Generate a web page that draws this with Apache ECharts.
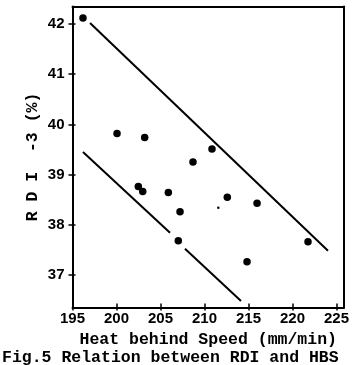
<!DOCTYPE html>
<html><head><meta charset="utf-8">
<script src="https://cdn.jsdelivr.net/npm/echarts@6/dist/echarts.min.js"></script>
<style>html,body{margin:0;padding:0;background:#fff}#c{width:359px;height:365px}</style>
</head><body><div id="c"></div>
<script>
// ---- data ----
const xTicks = [195, 200, 205, 210, 215, 220, 225];
const yTicks = [37, 38, 39, 40, 41, 42];
const hbs = [196.19, 200.06, 203.2, 210.85, 208.69, 202.48, 202.98, 205.89, 207.22, 207.02, 212.59, 215.97, 221.76, 214.83];
const rdi = [42.12, 39.82, 39.74, 39.51, 39.25, 38.76, 38.66, 38.64, 38.26, 37.68, 38.55, 38.43, 37.66, 37.26];
const speckX = [211.57];
const speckY = [38.34];
const upperLineX = [196.99, 224.03];
const upperLineY = [42.02, 37.48];
const lowerLineAX = [196.19, 206.08];
const lowerLineAY = [39.45, 37.84];
const lowerLineBX = [207.78, 214.15];
const lowerLineBY = [37.52, 36.48];
const xName = 'Heat behind Speed (mm/min)';
const yName = 'R D I  -3 (%)';
const caption = 'Fig.5 Relation between RDI and HBS';

const xRange = [195, 225.85];
const yRange = [36.35, 42.35];
const ink = '#000';
const zip = (a, b) => a.map((v, i) => [v, b[i]]);

const chart = echarts.init(document.getElementById('c'), null, {renderer: 'canvas'});
const lineStyle = {color: ink, width: 2};
const labelFont = {color: ink, fontFamily: 'Liberation Sans, Arial, sans-serif', fontWeight: 'bold', fontSize: 15};
const monoFont = {color: ink, fontFamily: 'Liberation Mono, Courier New, monospace', fontWeight: 'bold', fontSize: 16.5};

chart.setOption({
  animation: false,
  backgroundColor: '#fff',
  grid: {left: 72.5, right: 15, top: 6.5, bottom: 57.5, containLabel: false},
  xAxis: [
    {type: 'value', position: 'bottom', min: xRange[0], max: xRange[1],
     axisLine: {show: true, lineStyle: lineStyle},
     axisTick: {show: true, inside: true, length: 4, customValues: xTicks, lineStyle: {color: ink, width: 1.5}},
     axisLabel: {customValues: xTicks, margin: 4, ...labelFont},
     splitLine: {show: false},
     name: xName, nameLocation: 'middle', nameGap: 22, nameTextStyle: monoFont},
    {type: 'value', position: 'bottom', offset: 0, min: xRange[0], max: xRange[1],
     axisLine: {show: false},
     axisTick: {show: true, inside: false, length: 3, customValues: xTicks, lineStyle: {color: ink, width: 1.5}},
     axisLabel: {show: false}, splitLine: {show: false}},
    {type: 'value', position: 'top', min: xRange[0], max: xRange[1],
     axisLine: {show: true, lineStyle: lineStyle},
     axisTick: {show: false}, axisLabel: {show: false}, splitLine: {show: false}}
  ],
  yAxis: [
    {type: 'value', position: 'left', min: yRange[0], max: yRange[1],
     axisLine: {show: true, lineStyle: lineStyle},
     axisTick: {show: true, inside: false, length: 4, customValues: yTicks, lineStyle: {color: ink, width: 1.5}},
     axisLabel: {customValues: yTicks, margin: 8, ...labelFont},
     splitLine: {show: false},
     name: yName, nameLocation: 'middle', nameRotate: 90, nameGap: 31, nameMoveOverlap: false, nameTextStyle: monoFont},
    {type: 'value', position: 'left', offset: 0, min: yRange[0], max: yRange[1],
     axisLine: {show: false},
     axisTick: {show: true, inside: true, length: 3, customValues: yTicks, lineStyle: {color: ink, width: 1.5}},
     axisLabel: {show: false}, splitLine: {show: false}},
    {type: 'value', position: 'right', min: yRange[0], max: yRange[1],
     axisLine: {show: true, lineStyle: lineStyle},
     axisTick: {show: false}, axisLabel: {show: false}, splitLine: {show: false}}
  ],
  graphic: [
    {type: 'text', left: 2, top: 349, style: {text: caption, fill: ink, font: 'bold 16.5px "Liberation Mono", monospace'}}
  ],
  series: [
    {type: 'scatter', data: zip(hbs, rdi), symbol: 'circle', symbolSize: 7.5, itemStyle: {color: ink, opacity: 1}},
    {type: 'scatter', data: zip(speckX, speckY), symbol: 'circle', symbolSize: 2.5, itemStyle: {color: ink, opacity: 1}},
    {type: 'line', data: zip(upperLineX, upperLineY), showSymbol: false, lineStyle: {color: ink, width: 2}},
    {type: 'line', data: zip(lowerLineAX, lowerLineAY), showSymbol: false, lineStyle: {color: ink, width: 2}},
    {type: 'line', data: zip(lowerLineBX, lowerLineBY), showSymbol: false, lineStyle: {color: ink, width: 2}}
  ]
});
</script>
</body></html>
